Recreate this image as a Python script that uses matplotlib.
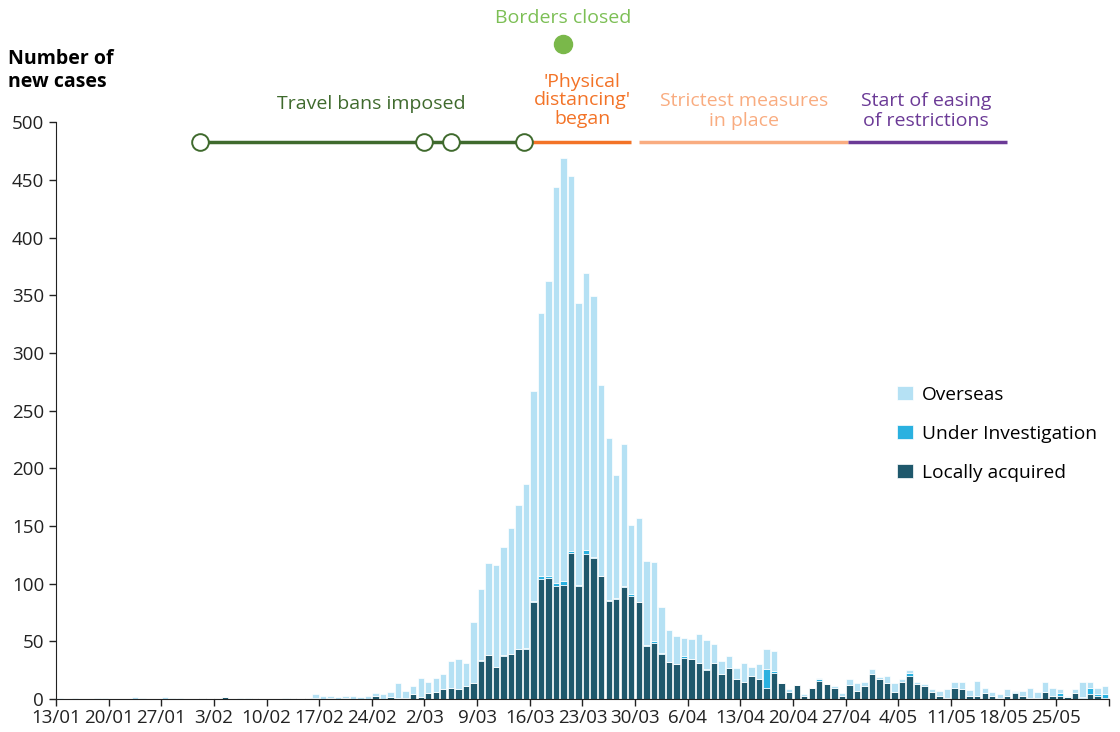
import matplotlib.pyplot as plt
import numpy as np

plt.rcParams['font.family'] = ['Open Sans', 'DejaVu Sans']

# daily new cases, 13/01 to 31/05 (one value per day)
local = [0, 0, 0, 0, 0, 0, 0, 0, 0, 0, 0, 0, 0, 0, 0, 0, 0, 0, 0, 1,
         0, 1, 2, 0, 0, 0, 1, 0, 0, 0, 0, 1, 0, 1, 1, 0, 1, 0, 1, 0,
         0, 0, 3, 0, 2, 1, 1, 4, 2, 5, 6, 9, 10, 9, 11, 14, 33, 38, 28, 37,
         39, 43, 43, 84, 104, 105, 98, 99, 127, 98, 126, 122, 107, 85, 87, 97, 89, 84, 46, 49,
         39, 32, 30, 36, 35, 31, 25, 31, 22, 27, 17, 15, 20, 17, 10, 23, 14, 6, 12, 3,
         10, 16, 13, 10, 3, 12, 7, 11, 22, 17, 14, 6, 15, 20, 13, 11, 6, 3, 1, 10,
         9, 3, 3, 5, 3, 1, 3, 5, 3, 1, 1, 6, 3, 3, 2, 5, 1, 4, 3, 1]
investigation = [0] * 56 + [
         1, 0, 0, 1, 0, 0, 1, 1, 3, 2, 3, 3, 1, 1, 3, 1, 0, 1, 1, 1,
         2, 0, 1, 1, 1, 0, 0, 1, 0, 0, 1, 0, 0, 0, 0, 0, 0, 0, 16, 1,
         0, 0, 0, 0, 0, 1, 0, 0, 0, 0, 0, 0, 0, 0, 0, 0, 0, 3, 0, 0,
         0, 0, 0, 0, 0, 0, 0, 0, 0, 0, 0, 1, 0, 0, 0, 0, 0, 2, 0, 0,
         1, 6, 1, 3]
overseas = [1, 0, 1, 0, 0, 1, 1, 0, 0, 0, 2, 1, 0, 0, 2, 1, 1, 0, 0, 0,
            0, 0, 0, 0, 1, 1, 0, 0, 0, 0, 1, 0, 0, 0, 3, 3, 2, 2, 2, 3,
            2, 3, 2, 4, 4, 13, 6, 7, 16, 10, 12, 13, 23, 26, 20, 53, 61, 80, 88, 94,
            109, 125, 142, 182, 228, 255, 343, 367, 325, 244, 240, 226, 165, 140, 106, 123, 60, 73, 73, 69,
            40, 28, 25, 16, 17, 25, 25, 17, 11, 10, 10, 16, 8, 13, 17, 18, 0, 3, 0, 1,
            0, 1, 0, 1, 2, 5, 7, 4, 4, 2, 6, 8, 2, 2, 2, 2, 3, 4, 8, 5,
            6, 5, 13, 5, 3, 3, 6, 1, 4, 9, 5, 9, 7, 4, 1, 4, 13, 5, 6, 7]

tick_labels = ['13/01', '20/01', '27/01', '3/02', '10/02', '17/02', '24/02',
               '2/03', '9/03', '16/03', '23/03', '30/03', '6/04', '13/04',
               '20/04', '27/04', '4/05', '11/05', '18/05', '25/05', '']

# events (day index from 13/01)
travel_bans = [19.1, 48.9, 52.5, 62.2]
distancing = [62.2, 76.5]
strictest = [77.5, 105.3]
easing = [105.3, 126.5]
borders_closed = 67.4

c_local = '#1f586c'
c_inv = '#2ab1e0'
c_over = '#b5e1f4'

local = np.array(local)
investigation = np.array(investigation)
overseas = np.array(overseas)
x = np.arange(len(local)) + 0.5

fig = plt.figure(figsize=(11.2, 7.32), dpi=100)
ax = fig.add_axes([0.05, 0.045, 0.94, 0.788])

w = 0.85
ax.bar(x, local, w, color=c_local, edgecolor='white', linewidth=0.5, label='Locally acquired')
ax.bar(x, investigation, w, bottom=local, color=c_inv, edgecolor='white', linewidth=0.5,
       label='Under Investigation')
ax.bar(x, overseas, w, bottom=local + investigation, color=c_over, edgecolor='white',
       linewidth=0.5, label='Overseas')

ax.set_xlim(0, 140)
ax.set_ylim(0, 500)
ax.set_yticks(np.arange(0, 501, 50))
ax.set_xticks(np.arange(0, 141, 7))
ax.set_xticklabels(tick_labels)
ax.tick_params(labelsize=13.5, length=5, width=1, colors='#222222', labelcolor='#222222')
ax.tick_params(axis='x', pad=2)
ax.spines['top'].set_visible(False)
ax.spines['right'].set_visible(False)
for s in ['left', 'bottom']:
    ax.spines[s].set_color('#222222')

# event timeline above the bars
yl = 482.7
ax.plot(travel_bans, [yl] * 4, color='#3f6a2d', lw=2.5, marker='o', ms=12,
        mfc='white', mec='#3f6a2d', mew=1.4, clip_on=False, zorder=5)
ax.plot(distancing, [yl, yl], color='#f37327', lw=2.5, clip_on=False, zorder=4,
        solid_capstyle='butt')
ax.plot(strictest, [yl, yl], color='#f9ac80', lw=2.5, clip_on=False, solid_capstyle='butt')
ax.plot(easing, [yl, yl], color='#6b3a96', lw=2.5, clip_on=False, solid_capstyle='butt')
ax.plot([borders_closed], [567.6], 'o', color='#7ab84a', ms=13, clip_on=False)

fs = 14
ax.text(41.9, 516, 'Travel bans imposed', color='#3f6a2d', fontsize=fs,
        ha='center', va='center')
ax.text(70.0, 519, "'Physical\ndistancing'\nbegan", color='#f37327', fontsize=fs,
        ha='center', va='center', linespacing=1.02)
ax.text(91.5, 510, 'Strictest measures\nin place', color='#f9ac80', fontsize=fs,
        ha='center', va='center', linespacing=1.15)
ax.text(115.7, 510, 'Start of easing\nof restrictions', color='#6b3a96', fontsize=fs,
        ha='center', va='center', linespacing=1.15)
ax.text(borders_closed, 590, 'Borders closed', color='#7cbf55', fontsize=fs,
        ha='center', va='center')

fig.text(0.007, 0.933, 'Number of\nnew cases', fontsize=14, fontweight='bold',
         ha='left', va='top', linespacing=1.2)

h, l = ax.get_legend_handles_labels()
ax.legend(h[::-1], l[::-1], loc='upper left', bbox_to_anchor=(0.79, 0.56),
          frameon=False, fontsize=13.8, handlelength=0.8, handleheight=0.8,
          handletextpad=0.5, labelspacing=1.1, borderpad=0)

plt.savefig('out.png', dpi=100)
